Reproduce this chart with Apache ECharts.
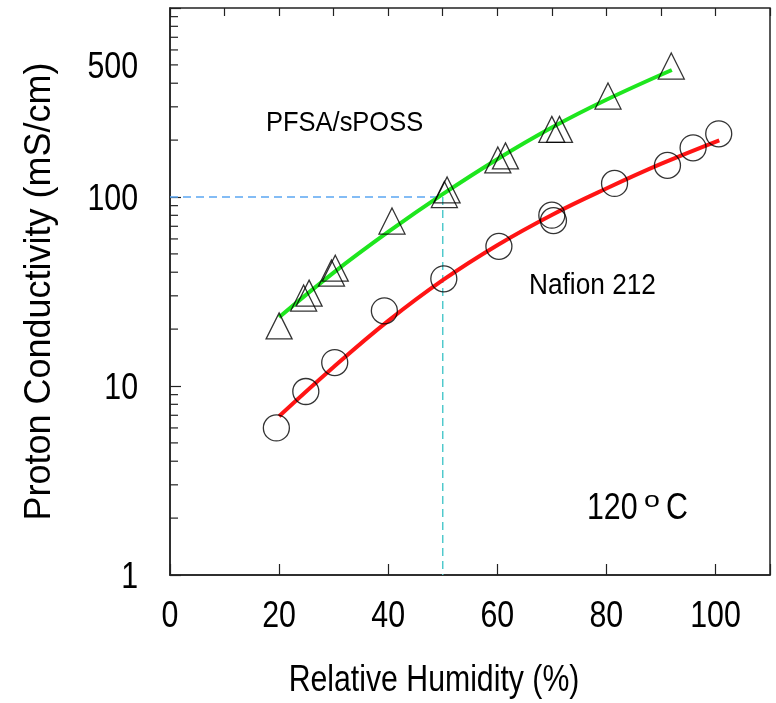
<!DOCTYPE html>
<html>
<head>
<meta charset="utf-8">
<script src="https://cdn.jsdelivr.net/npm/echarts@6/dist/echarts.min.js"></script>
<style>
  html, body { margin: 0; padding: 0; background: #fff; }
  #chart { width: 776px; height: 703px; }
</style>
</head>
<body>
<div id="chart"></div>
<script>
// PFSA/sPOSS membrane, measured points (RH %, conductivity mS/cm)
const pfsaRH = [20, 24.5, 25.5, 29.6, 30.3, 40.7, 50.3, 50.8, 60.1, 61.5, 70.0, 71.4, 80.3, 91.9];
const pfsaCond = [20.8, 29.2, 31.0, 39.6, 42.0, 74.6, 103, 109, 157, 165, 228, 228, 342, 493];
// PFSA/sPOSS fitted trend
const pfsaFitRH = [20, 30, 40, 50, 60, 70, 80, 92];
const pfsaFitCond = [23.1, 39.8, 65.3, 103.5, 158.5, 233, 327, 470];

// Nafion 212, measured points
const nafionRH = [19.5, 24.9, 30.2, 39.3, 50.2, 60.3, 70.0, 70.3, 81.5, 91.2, 95.9, 100.6];
const nafionCond = [6.0, 9.35, 13.3, 25.0, 36.9, 54.8, 80.1, 75.0, 118, 147, 182, 216];
// Nafion 212 fitted trend
const nafionFitRH = [20, 30, 40, 50, 60, 70, 80, 90, 100.7];
const nafionFitCond = [6.92, 12.6, 22.1, 36.3, 55.6, 80.4, 110.9, 149.6, 199.5];

// Guide lines marking 100 mS/cm at 50 % RH
const guideRH = 50;
const guideCond = 100;

// Axis ticks and labels
const xLabelValues = [0, 20, 40, 60, 80, 100];
const yLabelValues = [1, 10, 100, 500];
const yMinorTicks = [2, 3, 4, 5, 6, 7, 8, 9, 20, 30, 40, 50, 60, 70, 80, 90,
                     200, 300, 400, 500, 600, 700, 800, 900];

const zip = (a, b) => a.map((v, i) => [v, b[i]]);

const textFont = "'Liberation Sans', Arial, sans-serif";
const axisColor = '#222';
const narrow = 0.82;   // horizontal squeeze for the condensed lettering

const chart = echarts.init(document.getElementById('chart'), null, { renderer: 'canvas' });

// condensed text element anchored at (x, y)
function squeezedText(text, x, y, size, align, squeeze) {
  return {
    type: 'text', x, y, scaleX: squeeze,
    style: { text, x: 0, y: 0, align, verticalAlign: 'middle',
             fontSize: size, fontFamily: textFont, fill: '#000' }
  };
}

const option = {
  animation: false,
  backgroundColor: '#fff',
  grid: {
    left: 170, right: 6, top: 8, bottom: 128,
    show: true, borderColor: axisColor, borderWidth: 1.5, backgroundColor: 'transparent'
  },
  xAxis: [
    {
      type: 'value', min: 0, max: 110, interval: 20,
      axisLine: { show: true, lineStyle: { color: axisColor, width: 1.5 } },
      axisTick: { show: true, inside: true, length: 11, lineStyle: { color: axisColor, width: 1.2 } },
      splitLine: { show: false },
      axisLabel: { show: false }
    },
    {
      type: 'value', min: 0, max: 110, interval: 10,
      axisLine: { show: false },
      axisTick: { show: true, inside: true, length: 8, lineStyle: { color: axisColor, width: 1.2 } },
      splitLine: { show: false },
      axisLabel: { show: false }
    }
  ],
  yAxis: {
    type: 'log', logBase: 10, min: 1, max: 1000,
    axisLine: { show: true, lineStyle: { color: axisColor, width: 1.5 } },
    axisTick: { show: true, inside: true, length: 11, lineStyle: { color: axisColor, width: 1.2 } },
    minorTick: { show: false },
    splitLine: { show: false },
    axisLabel: { show: false },
    name: 'Proton Conductivity (mS/cm)',
    nameLocation: 'middle', nameGap: 112, nameRotate: 90,
    nameTextStyle: { fontSize: 36, fontFamily: textFont, color: '#000' }
  },
  series: [
    {
      // log-spaced minor ticks on the y axis
      type: 'custom', xAxisIndex: 0, silent: true,
      data: yMinorTicks.map(v => [0, v]),
      renderItem: (params, api) => {
        const p = api.coord([0, api.value(1)]);
        return {
          type: 'line',
          shape: { x1: p[0], y1: p[1], x2: p[0] + 8, y2: p[1] },
          style: { stroke: axisColor, lineWidth: 1.2 }
        };
      },
      z: 1
    },
    {
      // y tick labels
      type: 'custom', xAxisIndex: 0, silent: true, clip: false,
      data: yLabelValues.map(v => [0, v]),
      renderItem: (params, api) => {
        const v = api.value(1);
        const p = api.coord([0, v]);
        return squeezedText(String(v), p[0] - 32, p[1] + 3, 37, 'right', narrow);
      },
      z: 1
    },
    {
      // x tick labels
      type: 'custom', xAxisIndex: 0, silent: true, clip: false,
      data: xLabelValues.map(v => [v, 1]),
      renderItem: (params, api) => {
        const v = api.value(0);
        const p = api.coord([v, 1]);
        return squeezedText(String(v), p[0], p[1] + 42, 37, 'center', narrow);
      },
      z: 1
    },
    {
      type: 'line', name: 'guide-h', xAxisIndex: 0,
      data: [[0, guideCond], [guideRH, guideCond]],
      symbol: 'none', silent: true,
      lineStyle: { color: '#5ba6f2', width: 1.5, type: [8, 5] }, z: 2
    },
    {
      type: 'line', name: 'guide-v', xAxisIndex: 0,
      data: [[guideRH, guideCond], [guideRH, 1]],
      symbol: 'none', silent: true,
      lineStyle: { color: '#4fc9cc', width: 1.5, type: [8, 5] }, z: 2
    },
    {
      type: 'line', name: 'PFSA/sPOSS fit', xAxisIndex: 0,
      data: zip(pfsaFitRH, pfsaFitCond),
      symbol: 'none', smooth: 0.4, silent: true,
      lineStyle: { color: '#1ee61e', width: 4 }, z: 3
    },
    {
      type: 'line', name: 'Nafion 212 fit', xAxisIndex: 0,
      data: zip(nafionFitRH, nafionFitCond),
      symbol: 'none', smooth: 0.4, silent: true,
      lineStyle: { color: '#ff1414', width: 4 }, z: 3
    },
    {
      type: 'scatter', name: 'PFSA/sPOSS', xAxisIndex: 0,
      data: zip(pfsaRH, pfsaCond),
      symbol: 'triangle', symbolSize: [26, 26],
      itemStyle: { color: 'rgba(0,0,0,0)', borderColor: '#000', borderWidth: 1.3 }, z: 4
    },
    {
      type: 'scatter', name: 'Nafion 212', xAxisIndex: 0,
      data: zip(nafionRH, nafionCond),
      symbol: 'circle', symbolSize: 26,
      itemStyle: { color: 'rgba(0,0,0,0)', borderColor: '#000', borderWidth: 1.3 }, z: 4
    }
  ],
  graphic: [
    squeezedText('Relative Humidity (%)', 434, 681, 36, 'center', 0.84),
    squeezedText('PFSA/sPOSS', 266, 123, 28, 'left', 0.91),
    squeezedText('Nafion 212', 529, 286, 30, 'left', 0.875),
    squeezedText('120', 587, 509, 37, 'left', narrow),
    squeezedText('o', 644, 501, 22, 'left', 1.3),
    squeezedText('C', 666, 509, 37, 'left', narrow)
  ]
};

chart.setOption(option);
</script>
</body>
</html>
